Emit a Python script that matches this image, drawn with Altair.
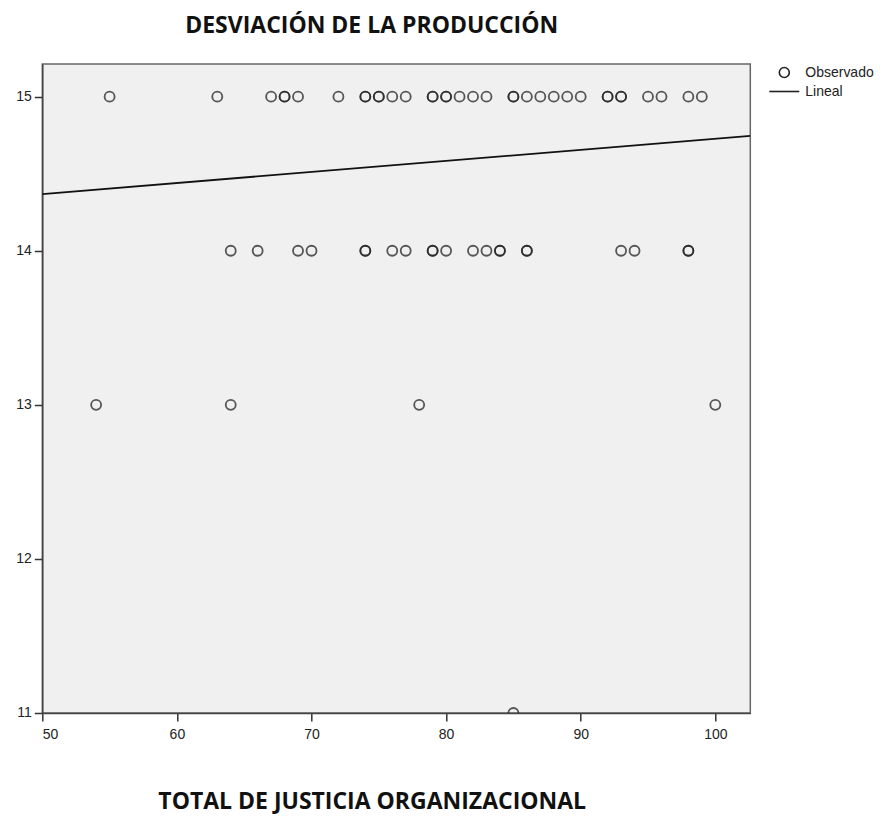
import altair as alt
import pandas as pd

# Observed values (x = TOTAL DE JUSTICIA ORGANIZACIONAL) for each level of DESVIACIÓN
fila15 = [55, 63, 67, 68, 68, 69, 72, 74, 74, 75, 75, 76, 77, 79, 79, 80, 80, 81, 82, 83,
          85, 85, 86, 87, 88, 89, 90, 92, 92, 93, 93, 95, 96, 98, 99]
fila14 = [64, 66, 69, 70, 74, 74, 76, 77, 79, 79, 80, 82, 83, 84, 84, 86, 86, 93, 94, 98, 98]
fila13 = [54, 64, 78, 100]
fila11 = [85]

# Linear fit line
lineal_x = [50, 102.6]
lineal_y = [14.368, 14.745]

x_ticks = [50, 60, 70, 80, 90, 100]
y_ticks = [11, 12, 13, 14, 15]

rows = []
for yv, xs in [(15, fila15), (14, fila14), (13, fila13), (11, fila11)]:
    for xv in xs:
        rows.append({"justicia": xv, "desviacion": yv, "serie": "Observado"})
df = pd.DataFrame(rows)
df_line = pd.DataFrame({"justicia": lineal_x, "desviacion": lineal_y})

xscale = alt.Scale(domain=[50, 102.6], nice=False, zero=False)
yscale = alt.Scale(domain=[11, 15.212], nice=False, zero=False)

xaxis = alt.Axis(
    values=x_ticks, format="d", grid=False,
    title="TOTAL DE JUSTICIA ORGANIZACIONAL",
    titleFont="Open Sans", titleFontSize=23, titleFontWeight="bold", titleColor="#111",
    titleX=329.4, titleY=89, titleAlign="center", titleBaseline="middle", titleAngle=0,
    labelFont="Liberation Sans", labelFontSize=14, labelColor="#222", labelPadding=7,
    tickSize=8, tickWidth=1.5, tickColor="#333",
    domainColor="#444", domainWidth=1.5,
)
yaxis = alt.Axis(
    values=y_ticks, format="d", grid=False, title=None,
    labelFont="Liberation Sans", labelFontSize=14, labelColor="#222", labelPadding=3,
    tickSize=8, tickWidth=1.5, tickColor="#333",
    domainColor="#444", domainWidth=1.5,
)

points = alt.Chart(df).mark_point(
    filled=False, size=100, strokeWidth=1.8, color="#222222", opacity=0.75, clip=True
).encode(
    x=alt.X("justicia:Q", scale=xscale, axis=xaxis),
    y=alt.Y("desviacion:Q", scale=yscale, axis=yaxis),
    shape=alt.Shape(
        "serie:N",
        scale=alt.Scale(domain=["Observado", "Lineal"], range=["circle", "M-3,0H3"]),
        legend=alt.Legend(
            title=None, orient="none", legendX=735, legendY=1.5, padding=0,
            symbolSize=100, symbolStrokeWidth=1.6, symbolStrokeColor="#222",
            symbolFillColor="transparent", symbolOpacity=1,
            labelFont="Liberation Sans", labelFontSize=14, labelColor="#222",
            labelOffset=14, rowPadding=3,
        ),
    ),
)

line = alt.Chart(df_line).mark_line(color="#111111", strokeWidth=1.8, clip=True).encode(
    x=alt.X("justicia:Q", scale=xscale),
    y=alt.Y("desviacion:Q", scale=yscale),
)

chart = alt.layer(points, line).properties(
    width=708,
    height=649,
    padding={"left": 34.3, "top": 56, "right": 137, "bottom": 103},
    autosize=alt.AutoSizeParams(type="none"),
    background="white",
    title=alt.TitleParams(
        "DESVIACIÓN DE LA PRODUCCIÓN",
        font="Open Sans", fontSize=23, fontWeight="bold", color="#111",
        anchor="middle", dx=-24.6, offset=26,
    ),
).configure_view(
    fill="#f0f0f0", stroke="#666", strokeWidth=1.5
)

chart.save("out.html", embed_options={"renderer": "svg", "actions": False})
